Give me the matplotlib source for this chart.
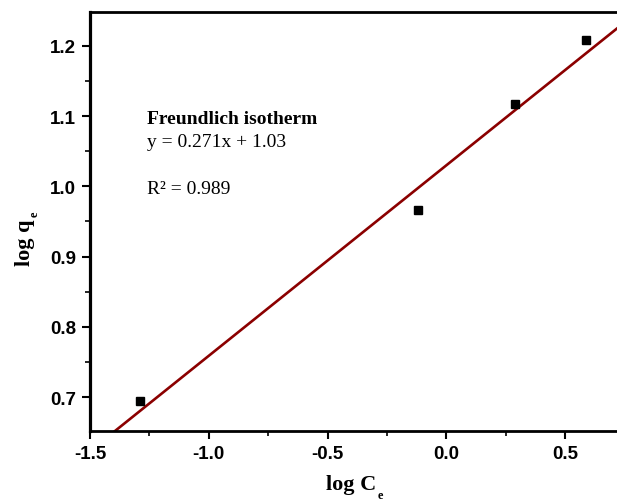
import matplotlib
matplotlib.use("Agg")
import matplotlib.pyplot as plt
import numpy as np
from matplotlib.ticker import MultipleLocator, FormatStrFormatter

log_Ce = [-1.29, -0.12, 0.29, 0.588]
log_qe = [0.695, 0.966, 1.117, 1.208]
slope = 0.271
intercept = 1.03
xlim = (-1.5, 0.718)
ylim = (0.652, 1.248)

W, H = 617, 502
fig = plt.figure(figsize=(W/100, H/100), dpi=100)
ax = fig.add_axes([90/W, 70/H, 1 - 90/W, (432-13)/H])

xfit = np.array(xlim)
ax.plot(xfit, slope*xfit + intercept, color="#8B0000", lw=1.9, zorder=2)
ax.plot(log_Ce, log_qe, "s", color="black", ms=6.2, zorder=3)

ax.set_xlim(*xlim)
ax.set_ylim(*ylim)
ax.xaxis.set_major_locator(MultipleLocator(0.5))
ax.xaxis.set_minor_locator(MultipleLocator(0.25))
ax.yaxis.set_major_locator(MultipleLocator(0.1))
ax.yaxis.set_minor_locator(MultipleLocator(0.05))
ax.xaxis.set_major_formatter(FormatStrFormatter("%.1f"))
ax.yaxis.set_major_formatter(FormatStrFormatter("%.1f"))

ax.spines["right"].set_visible(False)
ax.spines["left"].set_linewidth(2.3)
ax.spines["bottom"].set_linewidth(2.0)
ax.spines["top"].set_linewidth(2.0)
ax.tick_params(which="major", direction="out", length=6, width=1.5, pad=4)
ax.tick_params(which="minor", direction="out", length=3.5, width=1.2)
ax.tick_params(top=False, right=False)

for lab in ax.get_xticklabels() + ax.get_yticklabels():
    lab.set_fontfamily("Liberation Sans")
    lab.set_fontweight("bold")
    lab.set_fontsize(13.5)

serif = "Liberation Serif"
# x axis label: "log C" with subscript e
fig.text(351/W, 1 - 490/H, "log C", fontfamily=serif, fontweight="bold",
         fontsize=16, ha="center", va="baseline")
fig.text(380/W, 1 - 490/H, "e", fontfamily=serif, fontweight="bold",
         fontsize=9, ha="center", va="top")
# y axis label: "log q" with subscript e
fig.text(25/W, 1 - 243/H, "log q", fontfamily=serif, fontweight="bold",
         fontsize=16, ha="center", va="center", rotation=90)
fig.text(35/W, 1 - 214/H, "e", fontfamily=serif, fontweight="bold",
         fontsize=9, ha="center", va="center", rotation=90)

fig.text(147/W, 1 - 119/H, "Freundlich isotherm",
         fontfamily=serif, fontweight="bold", fontsize=14, va="center")
fig.text(147/W, 1 - 143/H, "y = 0.271x + 1.03",
         fontfamily=serif, fontsize=14, va="center")
fig.text(147/W, 1 - 190/H, "R² = 0.989",
         fontfamily=serif, fontsize=14, va="center")

fig.savefig("out.png", dpi=100)
